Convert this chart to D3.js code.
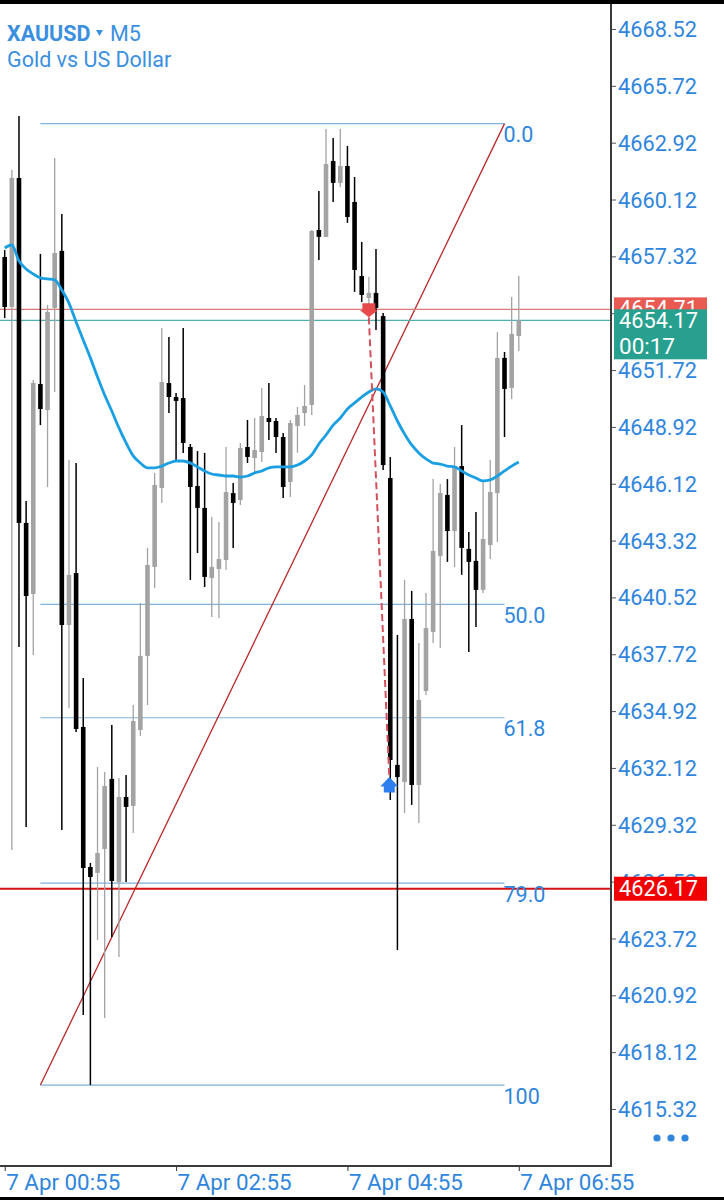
<!DOCTYPE html>
<html><head><meta charset="utf-8">
<script src="https://cdn.jsdelivr.net/npm/d3@7"></script>
<style>body{margin:0;background:#fff;overflow:hidden}svg{display:block;font-family:Roboto,sans-serif}</style>
</head><body><svg id="c" width="724" height="1200"></svg>
<script>
const times = ["00:55","01:00","01:05","01:10","01:15","01:20","01:25","01:30","01:35","01:40","01:45","01:50","01:55",
"02:00","02:05","02:10","02:15","02:20","02:25","02:30","02:35","02:40","02:45","02:50","02:55",
"03:00","03:05","03:10","03:15","03:20","03:25","03:30","03:35","03:40","03:45","03:50","03:55",
"04:00","04:05","04:10","04:15","04:20","04:25","04:30","04:35","04:40","04:45","04:50","04:55",
"05:00","05:05","05:10","05:15","05:20","05:25","05:30","05:35","05:40","05:45","05:50","05:55",
"06:00","06:05","06:10","06:15","06:20","06:25","06:30","06:35","06:40","06:45","06:50","06:55"];
const open = [4657.29,4654.83,4661.18,4644.19,4640.69,4651.03,4649.75,4654.78,4657.59,4639.16,
4641.72,4634.14,4627.24,4626.95,4628.13,4631.58,4626.50,4630.69,4630.25,4633.99,
4637.64,4642.02,4645.91,4651.08,4650.39,4650.34,4647.93,4646.01,4644.93,4641.48,
4641.92,4642.36,4645.66,4645.32,4647.93,4647.39,4647.68,4649.36,4649.21,4648.42,
4646.21,4648.97,4649.60,4650.00,4658.62,4658.28,4662.02,4660.94,4661.77,4660.00,
4656.35,4655.27,4655.52,4654.38,4646.40,4632.27,4631.43,4639.46,4631.28,4635.91,
4638.82,4642.56,4645.57,4643.79,4646.99,4642.91,4642.32,4640.89,4643.10,4645.66,
4652.32,4650.84,4653.40];
const high = [4657.63,4661.58,4664.24,4645.27,4651.23,4657.44,4654.93,4662.17,4659.41,4647.29,
4647.14,4636.55,4627.44,4632.17,4631.92,4634.24,4631.63,4631.77,4635.22,4640.25,
4642.96,4646.65,4653.79,4653.35,4650.59,4653.79,4648.08,4647.73,4647.64,4644.48,
4644.24,4647.93,4646.16,4648.13,4649.26,4649.36,4650.84,4651.08,4649.36,4648.62,
4649.26,4649.90,4650.98,4658.62,4660.54,4663.60,4663.15,4663.60,4662.76,4661.23,
4658.03,4656.31,4657.68,4654.53,4647.44,4638.67,4641.38,4640.84,4638.28,4640.74,
4646.35,4646.11,4646.35,4647.93,4649.01,4643.74,4644.73,4646.31,4647.29,4653.60,
4652.61,4655.32,4656.35];
const low = [4654.28,4628.08,4638.08,4629.21,4637.68,4649.01,4645.96,4650.64,4629.06,4635.07,
4633.89,4619.95,4616.50,4623.65,4619.80,4623.79,4622.81,4626.50,4628.92,4633.69,
4635.22,4640.98,4645.17,4649.60,4647.19,4647.64,4641.38,4642.71,4641.03,4639.56,
4639.51,4641.87,4642.96,4645.07,4647.14,4646.70,4647.19,4648.28,4647.64,4645.42,
4645.47,4647.64,4648.97,4649.51,4657.14,4658.28,4660.00,4660.74,4658.97,4655.57,
4655.07,4654.93,4653.69,4646.80,4630.54,4623.15,4629.90,4630.30,4629.41,4635.71,
4638.28,4638.03,4642.27,4642.02,4641.63,4637.83,4639.06,4640.74,4642.41,4643.25,
4648.42,4650.30,4652.66];
const close = [4654.83,4661.18,4644.19,4640.59,4651.08,4649.80,4654.58,4657.49,4639.16,4641.63,
4634.04,4627.19,4626.75,4627.93,4631.23,4626.55,4630.69,4630.20,4634.43,4637.64,
4642.12,4646.06,4651.13,4650.39,4650.20,4648.13,4645.96,4644.93,4641.53,4642.02,
4642.41,4645.71,4645.17,4647.88,4647.44,4647.78,4649.46,4649.16,4648.42,4645.96,
4649.11,4649.51,4649.95,4658.57,4658.28,4661.87,4660.94,4661.77,4659.26,4656.65,
4655.42,4655.52,4654.78,4647.04,4632.51,4631.67,4639.46,4631.28,4635.47,4639.01,
4642.81,4645.66,4643.79,4646.99,4642.96,4642.27,4640.89,4643.40,4645.71,4652.32,
4650.79,4653.50,4654.17];
const maValues = [4657.73,4657.88,4657.09,4656.70,4656.45,4656.26,4656.21,4656.16,4655.66,4655.02,
4654.09,4653.20,4652.32,4651.38,4650.49,4649.70,4648.87,4648.13,4647.49,4647.14,
4646.90,4646.90,4646.99,4647.14,4647.24,4647.24,4647.14,4646.95,4646.75,4646.60,
4646.55,4646.50,4646.50,4646.45,4646.50,4646.65,4646.75,4646.90,4646.95,4646.95,
4646.95,4647.04,4647.24,4647.54,4648.08,4648.52,4649.01,4649.36,4649.80,4650.10,
4650.39,4650.64,4650.79,4650.64,4649.95,4649.21,4648.57,4648.03,4647.64,4647.34,
4647.14,4647.09,4646.99,4646.95,4646.75,4646.55,4646.40,4646.26,4646.31,4646.50,
4646.75,4646.99,4647.19];
const priceTicks = [4668.52,4665.72,4662.92,4660.12,4657.32,4654.52,4651.72,4648.92,4646.12,4643.32,
4640.52,4637.72,4634.92,4632.12,4629.32,4626.52,4623.72,4620.92,4618.12,4615.32];
const timeTicks = ["00:55","02:55","04:55","06:55"];
const dateLabel = "7 Apr";
const fibLevels = [0, 50, 61.8, 79, 100];
const fibLabels = ["0.0","50.0","61.8","79.0","100"];
const fibHigh = 4663.86, fibLow = 4616.50;
const fibStart = "01:20", fibEnd = "06:45";
const sellLevel = 4654.71, bidLevel = 4654.17, alertLevel = 4626.17;
const tradeOpen = {time:"05:10", price:4654.71};
const tradeClose = {time:"05:25", price:4631.80};
const symbol = "XAUUSD", timeframe = "M5", description = "Gold vs US Dollar", countdown = "00:17";

const BLUE = "#2f86dc";
const svg = d3.select("#c");
const plotR = 611, plotB = 1166;
const x = d3.scalePoint().domain(times).range([4.7, 518.8]);
const y = d3.scaleLinear().domain([4615.32, 4668.52]).range([1109, 29]);
const FS = 21.5;

svg.append("rect").attr("x",0).attr("y",0).attr("width",724).attr("height",1200).attr("fill","#fff");
svg.append("defs").append("clipPath").attr("id","plot").append("rect")
  .attr("x",0).attr("y",4).attr("width",plotR).attr("height",plotB-4);
const plot = svg.append("g").attr("clip-path","url(#plot)");

// fibonacci
const fx0 = x(fibStart), fx1 = x(fibEnd);
const fibPrice = l => fibHigh - (fibHigh - fibLow) * l / 100;
plot.selectAll(".fib").data(fibLevels).join("line")
  .attr("x1", fx0).attr("x2", fx1)
  .attr("y1", d => y(fibPrice(d))).attr("y2", d => y(fibPrice(d)))
  .attr("stroke", "#7fb1d9").attr("stroke-width", 1.2);
plot.append("line").attr("x1", fx0).attr("y1", y(fibLow)).attr("x2", fx1).attr("y2", y(fibHigh))
  .attr("stroke", "#b8282a").attr("stroke-width", 1.3);

// horizontal price lines
plot.append("line").attr("x1",0).attr("x2",plotR).attr("y1",y(sellLevel)).attr("y2",y(sellLevel))
  .attr("stroke","#dc7a78").attr("stroke-width",1.3);
plot.append("line").attr("x1",0).attr("x2",plotR).attr("y1",y(bidLevel)).attr("y2",y(bidLevel))
  .attr("stroke","#4fb0b4").attr("stroke-width",1.3);
plot.append("line").attr("x1",0).attr("x2",plotR).attr("y1",y(alertLevel)).attr("y2",y(alertLevel))
  .attr("stroke","#d41414").attr("stroke-width",2.2);

// candles
const idx = d3.range(times.length);
const cg = plot.append("g");
const col = i => close[i] >= open[i] ? "#a3a3a3" : "#000";
cg.selectAll(".wick").data(idx).join("line")
  .attr("x1", i => x(times[i])).attr("x2", i => x(times[i]))
  .attr("y1", i => y(high[i])).attr("y2", i => y(low[i]))
  .attr("stroke", col).attr("stroke-width", i => close[i] >= open[i] ? 1.3 : 1.5);
cg.selectAll(".body").data(idx).join("rect")
  .attr("x", i => x(times[i]) - 2.3).attr("width", 4.6)
  .attr("y", i => y(Math.max(open[i], close[i])))
  .attr("height", i => Math.max(1.5, Math.abs(y(open[i]) - y(close[i]))))
  .attr("fill", col);

// moving average
plot.append("path").datum(idx)
  .attr("d", d3.line().x(i => x(times[i])).y(i => y(maValues[i])).curve(d3.curveMonotoneX))
  .attr("fill","none").attr("stroke","#1a9fe2").attr("stroke-width",2.8);

// trade
const sx = x(tradeOpen.time), sy = y(tradeOpen.price);
const bx = x(tradeClose.time) - 1, by = y(tradeClose.price);
plot.append("line").attr("x1",sx).attr("y1",sy+8).attr("x2",bx).attr("y2",by+2)
  .attr("stroke","#d4505c").attr("stroke-width",2).attr("stroke-dasharray","7,4");
plot.append("path").attr("fill","#e8494b")
  .attr("d",`M${sx-6.5},${sy-6}L${sx+6.5},${sy-6}L${sx+6.5},${sy+1}L${sx+9},${sy+1}L${sx},${sy+8}L${sx-9},${sy+1}L${sx-6.5},${sy+1}Z`);
plot.append("path").attr("fill","#2d7ff0")
  .attr("d",`M${bx},${by+2.5}L${bx+9},${by+12}L${bx+5.5},${by+12}L${bx+5.5},${by+18}L${bx-5.5},${by+18}L${bx-5.5},${by+12}L${bx-9},${by+12}Z`);

// fib labels
svg.selectAll(".fibl").data(fibLevels).join("text")
  .attr("x", fx1 - 1).attr("y", d => y(fibPrice(d)) + 18.5)
  .attr("fill", BLUE).attr("font-size", FS).text((d,i) => fibLabels[i]);

// header
svg.append("rect").attr("x",0).attr("y",0).attr("width",724).attr("height",4).attr("fill","#000");
svg.append("rect").attr("x",0).attr("y",1197).attr("width",724).attr("height",3).attr("fill","#000");
const h = svg.append("text").attr("x",7).attr("y",41).attr("fill","#3a8fe0").attr("font-size",FS);
h.append("tspan").attr("font-weight","bold").text(symbol);
svg.append("path").attr("d","M96,30L103,30L99.5,36Z").attr("fill","#3a8fe0");
svg.append("text").attr("x",110).attr("y",41).attr("fill","#3a8fe0").attr("font-size",FS).text(timeframe);
svg.append("text").attr("x",7).attr("y",67).attr("fill","#3a8fe0").attr("font-size",FS).text(description);

// y axis
const ya = svg.append("g").attr("transform",`translate(${plotR+1},0)`)
  .call(d3.axisRight(y).tickValues(priceTicks).tickSize(4).tickPadding(2).tickFormat(d3.format(".2f")));
ya.select(".domain").remove();
ya.selectAll("line").attr("stroke","#555");
ya.selectAll("text").attr("fill",BLUE).attr("font-size",FS).attr("font-family","Roboto")
  .attr("dy","0.35em").attr("textLength",79).attr("lengthAdjust","spacingAndGlyphs");

// x axis
const xa = svg.append("g").attr("transform",`translate(0,${plotB})`)
  .call(d3.axisBottom(x).tickValues(timeTicks).tickSize(5).tickPadding(4).tickFormat(d => dateLabel + " " + d));
xa.select(".domain").remove();
xa.selectAll("line").attr("stroke","#333");
xa.selectAll("text").attr("fill",BLUE).attr("font-size",FS).attr("font-family","Roboto")
  .attr("text-anchor","start").attr("x",1).attr("textLength",114).attr("lengthAdjust","spacingAndGlyphs");

// borders
svg.append("line").attr("x1",plotR).attr("x2",plotR).attr("y1",4).attr("y2",plotB+1).attr("stroke","#3a3a3a").attr("stroke-width",2);
svg.append("line").attr("x1",0).attr("x2",plotR+1).attr("y1",plotB).attr("y2",plotB).attr("stroke","#3a3a3a").attr("stroke-width",2);

// price boxes
function box(price, top, hgt, fill, lines) {
  svg.append("rect").attr("x",614).attr("y",top).attr("width",93).attr("height",hgt).attr("fill",fill);
  lines.forEach((t,k) => svg.append("text").attr("x",619).attr("y",top + 19 + k*26)
    .attr("fill","#fff").attr("font-size",FS).attr("textLength", t.length > 5 ? 79 : 56)
    .attr("lengthAdjust","spacingAndGlyphs").text(t));
}
box(sellLevel, y(sellLevel) - 12, 24, "#e85a52", [d3.format(".2f")(sellLevel)]);
box(bidLevel, y(bidLevel) - 11, 50, "#27a08f", [d3.format(".2f")(bidLevel), countdown]);
box(alertLevel, y(alertLevel) - 12, 24, "#f00000", [d3.format(".2f")(alertLevel)]);

// menu dots
svg.selectAll(".dot").data([0,1,2]).join("circle")
  .attr("cx", d => 657 + d*14).attr("cy",1138).attr("r",3.6).attr("fill",BLUE);
</script></body></html>
